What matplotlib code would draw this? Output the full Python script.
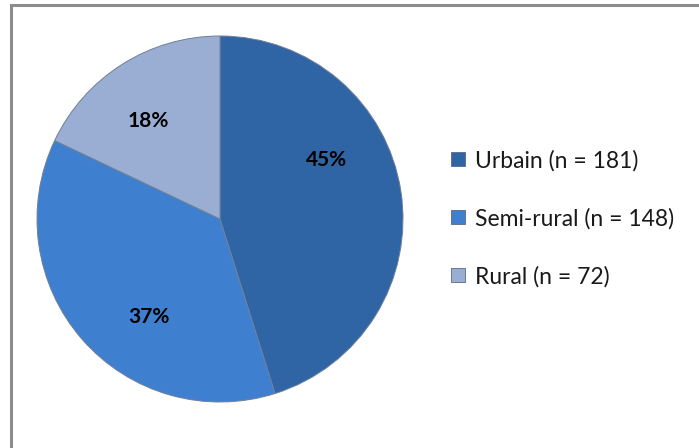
import numpy as np
import matplotlib
matplotlib.use("Agg")
from matplotlib import pyplot as plt
from matplotlib.lines import Line2D

categories = ["Urbain", "Semi-rural", "Rural"]
counts = [181, 148, 72]
colors = ["#2f64a5", "#3f7fcf", "#9aaed3"]
# where Excel put each percentage label (angle in degrees)
label_angles = [29, -126, 126]

plt.rcParams['font.family'] = ['Lato', 'DejaVu Sans']

fig = plt.figure(figsize=(6.99, 4.48), dpi=100)

# frame lines (top and left visible only)
fig.add_artist(Line2D([10.5/699, 1], [1-5.5/448, 1-5.5/448], color="#8c8c8c", lw=2.2))
fig.add_artist(Line2D([10.5/699, 10.5/699], [0, 1-5.5/448], color="#8c8c8c", lw=2.2))

ax = fig.add_axes([37/699, 46/448, 366/699, 366/448])
wedges, texts, autotexts = ax.pie(
    counts, colors=colors, startangle=90, counterclock=False,
    autopct="%1.0f%%", pctdistance=0.67,
    wedgeprops=dict(edgecolor="#6f7f98", linewidth=0.7),
    textprops=dict(fontsize=15, fontweight="bold", color="black"))
for t, a in zip(autotexts, label_angles):
    t.set_position((0.665*np.cos(np.radians(a)), 0.665*np.sin(np.radians(a))))
ax.set_xlim(-1, 1)
ax.set_ylim(-1, 1)
ax.set_aspect("equal")

handles = [Line2D([], [], marker="s", linestyle="", markersize=10.5,
                  markerfacecolor=c, markeredgecolor="#5a6a80", markeredgewidth=0.6)
           for c in colors]
labels = [f"{c} (n = {n})" for c, n in zip(categories, counts)]
fig.legend(handles, labels, loc="upper left", bbox_to_anchor=(426/699, 1-129/448),
           frameon=False, fontsize=16.5, labelspacing=1.6, handletextpad=0.25,
           handlelength=1.0, labelcolor="#1a1a1a")

fig.savefig("out.png", dpi=100)
